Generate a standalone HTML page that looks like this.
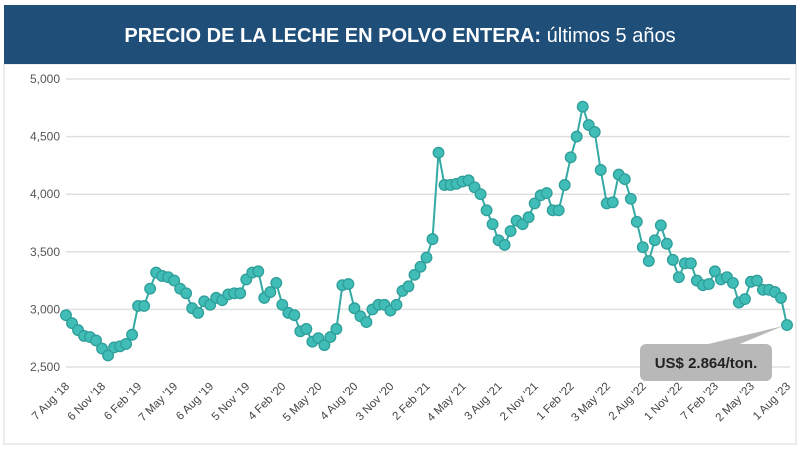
<!DOCTYPE html>
<html><head><meta charset="utf-8"><style>
body{margin:0;background:#fff;width:800px;height:451px;overflow:hidden;font-family:"Liberation Sans",sans-serif}
</style></head><body>
<svg width="800" height="451" viewBox="0 0 800 451">
<rect x="4" y="64" width="792" height="380" fill="#fff" stroke="#d8d8d8"/>
<rect x="4" y="5" width="792" height="59" fill="#1f4e79"/>
<text x="400" y="42" text-anchor="middle" fill="#fff" font-size="20"><tspan font-weight="bold">PRECIO DE LA LECHE EN POLVO ENTERA:</tspan> últimos 5 años</text>
<g id="grid"></g><g id="yt"></g><g id="xt"></g><path id="line" fill="none" stroke="#35aaa5" stroke-width="2"/><g id="pts"></g>
<g>
<path d="M700 346 L783 326 L735 346 Z" fill="#b8b8b8"/>
<rect x="640" y="344" width="132" height="37" rx="6" fill="#b8b8b8"/>
<text x="706" y="368" text-anchor="middle" font-size="15" font-weight="bold" fill="#222">US$ 2.864/ton.</text>
</g>
</svg>
<script>
const values=[2950,2880,2820,2770,2760,2730,2660,2600,2670,2680,2700,2780,3030,3030,3180,3320,3290,3280,3250,3180,3140,3010,2970,3070,3040,3100,3080,3130,3140,3140,3260,3320,3330,3100,3150,3230,3040,2970,2950,2810,2830,2720,2750,2690,2760,2830,3210,3220,3010,2940,2890,3000,3040,3040,2990,3040,3160,3200,3300,3370,3450,3610,4360,4080,4080,4090,4110,4120,4060,4000,3860,3740,3600,3560,3680,3770,3740,3800,3920,3990,4010,3860,3860,4080,4320,4500,4760,4600,4540,4210,3920,3930,4170,4130,3960,3760,3540,3420,3600,3730,3570,3430,3280,3400,3400,3250,3210,3220,3330,3260,3280,3230,3060,3090,3240,3250,3170,3170,3150,3100,2864];
const xLabels=["7 Aug '18","6 Nov '18","6 Feb '19","7 May '19","6 Aug '19","5 Nov '19","4 Feb '20","5 May '20","4 Aug '20","3 Nov '20","2 Feb '21","4 May '21","3 Aug '21","2 Nov '21","1 Feb '22","3 May '22","2 Aug '22","1 Nov '22","7 Feb '23","2 May '23","1 Aug '23"];
const yTicks=[2500,3000,3500,4000,4500,5000];
const ns="http://www.w3.org/2000/svg";
const X0=66,X1=787,n=values.length;
const x=i=>X0+i*(X1-X0)/(n-1);
const y=v=>367-(v-2500)*(367-79)/2500;
const grid=document.getElementById('grid'),yt=document.getElementById('yt'),xt=document.getElementById('xt'),pts=document.getElementById('pts');
yTicks.forEach(t=>{
 const l=document.createElementNS(ns,'line');
 l.setAttribute('x1',66);l.setAttribute('x2',790);l.setAttribute('y1',y(t));l.setAttribute('y2',y(t));
 l.setAttribute('stroke','#e0e0e0');l.setAttribute('stroke-width','1.5');
 
 
 grid.appendChild(l);
 const tx=document.createElementNS(ns,'text');
 tx.setAttribute('x',60);tx.setAttribute('y',y(t)+4);tx.setAttribute('text-anchor','end');
 tx.setAttribute('font-size','12');tx.setAttribute('fill','#555');
 tx.textContent=t.toLocaleString('en-US');
 
 
 yt.appendChild(tx);
});
xLabels.forEach((s,k)=>{
 const tx=document.createElementNS(ns,'text');
 const px=x(k*6)+4,py=387;
 tx.setAttribute('x',px);tx.setAttribute('y',py);tx.setAttribute('text-anchor','end');
 tx.setAttribute('transform','rotate(-45 '+px+' '+py+')');
 tx.setAttribute('font-size','11.5');tx.setAttribute('fill','#444');
 tx.textContent=s;
 
 
 xt.appendChild(tx);
});
let d='';
values.forEach((v,i)=>{d+=(i?'L':'M')+x(i).toFixed(1)+' '+y(v).toFixed(1);});
document.getElementById('line').setAttribute('d',d);
values.forEach((v,i)=>{
 const c=document.createElementNS(ns,'circle');
 c.setAttribute('cx',x(i));c.setAttribute('cy',y(v));c.setAttribute('r',5.3);
 c.setAttribute('fill','#41bdb7');c.setAttribute('stroke','#2e9e99');c.setAttribute('stroke-width','1.3');
 
 
 pts.appendChild(c);
});
</script>
</body></html>
